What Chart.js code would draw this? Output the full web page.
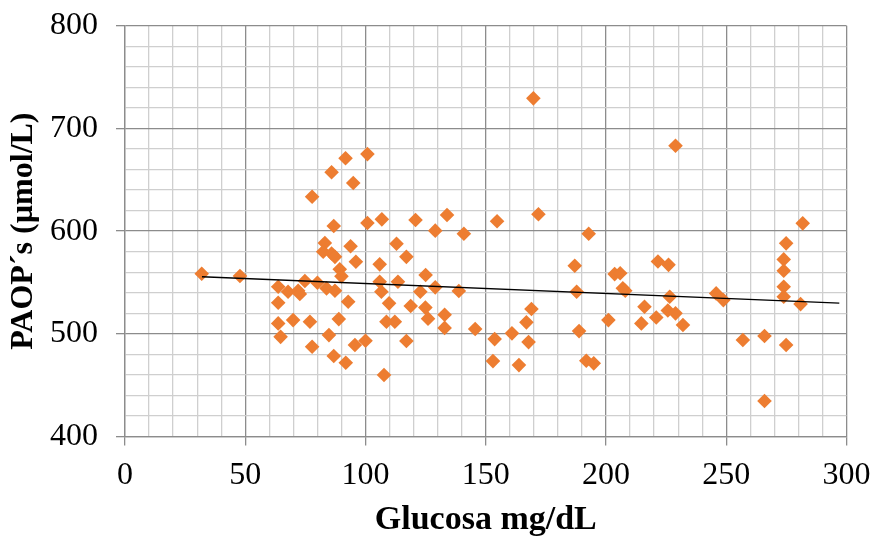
<!DOCTYPE html>
<html>
<head>
<meta charset="utf-8">
<script src="https://cdn.jsdelivr.net/npm/chart.js@4.4.1/dist/chart.umd.min.js"></script>
<style>
  html, body { margin: 0; padding: 0; background: #fff; }
  #wrap { width: 874px; height: 536px; }
</style>
</head>
<body>
<div id="wrap"><canvas id="chart"></canvas></div>
<script>
// glucosa (mg/dL) vs PAOP's (umol/L)
const glucosa = [
  31.9, 47.8, 63.7, 67.8, 72, 72.7, 74.8, 80, 83.8, 87.3,
  63.7, 63.7, 69.9, 76.9, 88.9, 64.7, 84.8, 77.8, 86.8, 91.8,
  92.8, 95.6, 100, 107.7, 108.7, 112.2, 109.8, 117, 106.6, 105.9,
  113.5, 105.9, 112.9, 117, 96, 93.8, 89.3, 90, 83.1, 82.4,
  85.9, 87.3, 86.8, 100.8, 106.8, 77.8, 94.9, 85.9, 91.7, 100.8,
  120.8, 133.9, 129, 140.9, 154.7, 171.9, 169.8, 192.8, 125, 122.8,
  129, 138.8, 118.8, 124.9, 132.9, 126, 132.9, 145.6, 153.7, 153,
  160.9, 163.8, 166.9, 169, 167.8, 187, 187.8, 188.8, 191.8, 194.9,
  201, 203.6, 205.9, 207, 208, 214.7, 216, 220.9, 221.6, 226,
  226.5, 225.7, 228.9, 232, 228.9, 245.8, 248.8, 256.9, 265.9, 265.9,
  274.9, 273.9, 273.9, 273.9, 273.9, 274.9, 281.8, 280.9
];
const paops = [
  558.5, 556.3, 545.9, 541, 542, 538.8, 551.4, 549.8, 544.3, 542,
  530.3, 510.2, 513.4, 511.8, 514.4, 497.1, 498.8, 487.5, 478.4, 471.9,
  531.3, 489.1, 493.3, 459.9, 511.8, 511.8, 529.7, 493, 541, 550.7,
  550.7, 567.7, 587.7, 575, 570.2, 585.3, 562.8, 556, 588.5, 579.9,
  578.3, 575, 605, 608, 611.5, 633.5, 646.8, 657.3, 670.9, 675,
  610.8, 615.7, 600.5, 597.4, 609.7, 616.4, 729.3, 597.5, 557.3, 541,
  545.3, 541.7, 527.2, 525.6, 518.6, 514.8, 505.8, 504.7, 494.9, 473.5,
  500.5, 469.6, 511.2, 524.2, 492, 566.3, 541, 502.7, 473.8, 471.3,
  513.4, 558.2, 559, 544.3, 542, 510.2, 526.4, 516, 570.4, 567.2,
  536.1, 522.7, 520, 508.6, 683.2, 539.4, 532.9, 494, 497.9, 434.6,
  489.1, 536.1, 545.9, 561.4, 572.5, 588.1, 607.6, 529
];

// linear trend line ends
const trendX = [32, 297];
const trendY = [555.6, 530];

const xTicks = [0, 50, 100, 150, 200, 250, 300];
const yTicks = [400, 500, 600, 700, 800];

const points = glucosa.map((g, i) => ({ x: g, y: paops[i] }));
const trend = trendX.map((x, i) => ({ x: x, y: trendY[i] }));

const majorGrid = "#8c8c8c";
const minorGrid = "#cfcfcf";
const serif = "'Liberation Serif', 'Times New Roman', serif";

// keep the plot box where the layout padding puts it
function noOverflow(s) {
  s.paddingLeft = 0;
  s.paddingRight = 0;
  s.paddingTop = 0;
  s.paddingBottom = 0;
}

const ctx = document.getElementById("chart");

new Chart(ctx, {
  type: "scatter",
  data: {
    datasets: [
      {
        data: points,
        pointStyle: "rectRot",
        pointRadius: 7.3,
        pointHoverRadius: 7.3,
        backgroundColor: "#ED7D31",
        borderWidth: 0,
        order: 2
      },
      {
        data: trend,
        showLine: true,
        pointRadius: 0,
        borderColor: "#000",
        borderWidth: 1.3,
        order: 1
      }
    ]
  },
  options: {
    responsive: true,
    maintainAspectRatio: false,
    animation: false,
    layout: { padding: { top: 25.7, right: 27.5, bottom: 0, left: 0 } },
    plugins: {
      legend: { display: false },
      tooltip: { enabled: false }
    },
    scales: {
      x: {
        type: "linear",
        min: 0,
        max: 300,
        afterFit: (s) => { s.height = 99.4; noOverflow(s); },
        border: { color: majorGrid, width: 1.3 },
        grid: {
          color: (c) => (xTicks.includes(c.tick.value) ? majorGrid : minorGrid),
          lineWidth: 1.3,
          tickLength: 9,
          tickColor: (c) => (xTicks.includes(c.tick.value) ? majorGrid : "rgba(0,0,0,0)")
        },
        ticks: {
          stepSize: 10,
          autoSkip: false,
          maxRotation: 0,
          padding: 11,
          color: "#000",
          font: { family: serif, size: 32 },
          callback: (v) => (xTicks.includes(v) ? v : "")
        },
        title: {
          display: true,
          text: "Glucosa mg/dL",
          color: "#000",
          font: { family: serif, size: 34, weight: "bold", lineHeight: 0.92 },
          padding: { top: 0, bottom: 0 }
        }
      },
      y: {
        type: "linear",
        min: 400,
        max: 800,
        afterFit: (s) => { s.width = 125; noOverflow(s); },
        border: { color: majorGrid, width: 1.3 },
        grid: {
          color: (c) => (yTicks.includes(c.tick.value) ? majorGrid : minorGrid),
          lineWidth: 1.3,
          tickLength: 9,
          tickColor: (c) => (yTicks.includes(c.tick.value) ? majorGrid : "rgba(0,0,0,0)")
        },
        ticks: {
          stepSize: 20,
          autoSkip: false,
          padding: 18,
          color: "#000",
          font: { family: serif, size: 32 },
          callback: (v) => (yTicks.includes(v) ? v : "")
        },
        title: {
          display: true,
          text: "PAOP´s (µmol/L)",
          color: "#000",
          font: { family: serif, size: 32, weight: "bold" },
          padding: { top: 5, bottom: 0 }
        }
      }
    }
  }
});
</script>
</body>
</html>
